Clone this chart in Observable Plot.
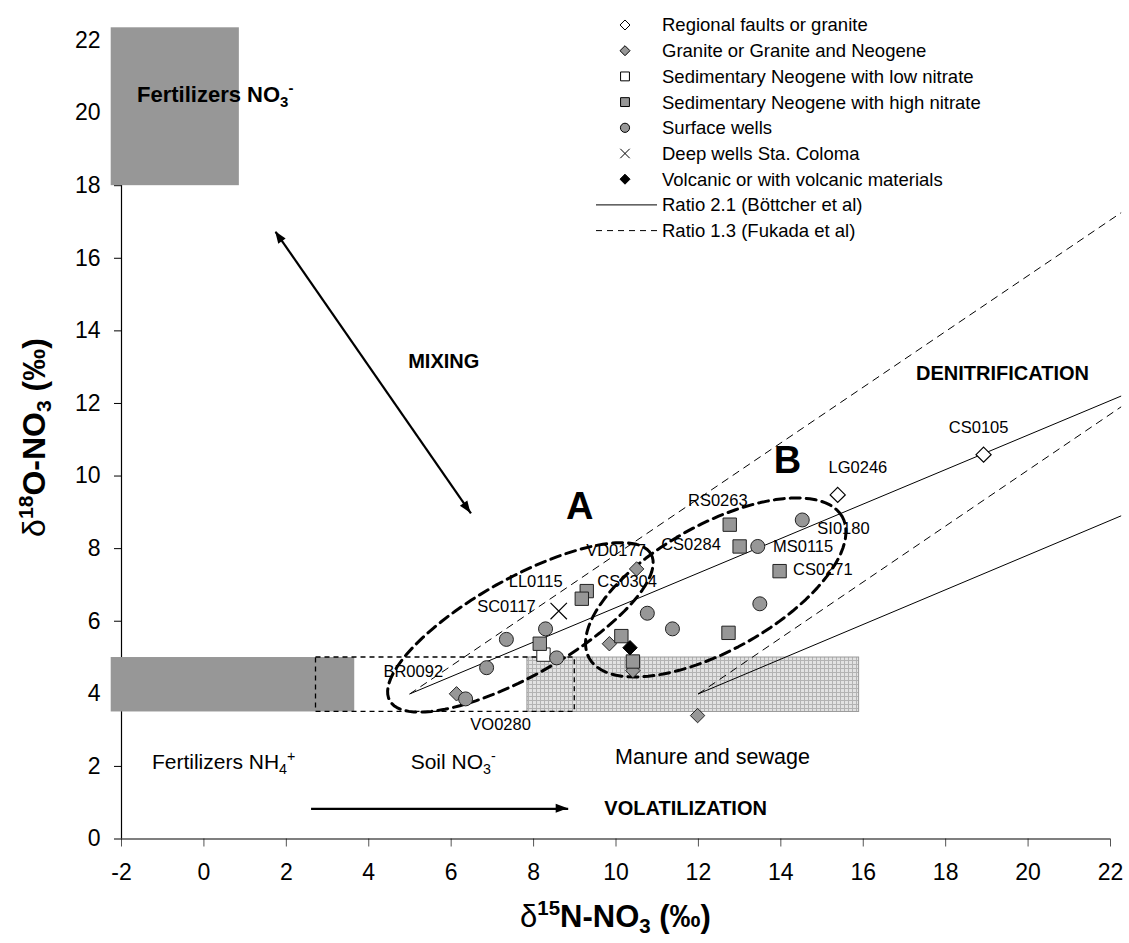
<!DOCTYPE html>
<html>
<head>
<meta charset="utf-8">
<script src="https://cdn.jsdelivr.net/npm/d3@7"></script>
<script src="https://cdn.jsdelivr.net/npm/@observablehq/plot@0.6"></script>
<style>
  body { margin: 0; background: #fff; }
  #chart { position: relative; width: 1129px; height: 943px; }
</style>
</head>
<body>
<div id="chart"></div>
<script>
const FONT = '"Liberation Sans", Arial, Helvetica, sans-serif';

// ---------- data (δ15N, δ18O in ‰) ----------
const xTicks = [-2, 0, 2, 4, 6, 8, 10, 12, 14, 16, 18, 20, 22];
const yTicks = [0, 2, 4, 6, 8, 10, 12, 14, 16, 18, 20, 22];

const regionalFaults = [ {n: 15.38, o: 9.48}, {n: 18.92, o: 10.59} ];
const graniteNeogene = [ {n: 10.50, o: 7.44}, {n: 9.84, o: 5.38}, {n: 6.13, o: 4.00}, {n: 10.41, o: 4.64}, {n: 11.98, o: 3.40} ];
const sedLowNitrate  = [ {n: 8.24, o: 5.08} ];
const sedHighNitrate = [ {n: 9.29, o: 6.83}, {n: 9.17, o: 6.62}, {n: 8.15, o: 5.38}, {n: 10.13, o: 5.59}, {n: 10.41, o: 4.89},
                         {n: 12.76, o: 8.66}, {n: 13.00, o: 8.06}, {n: 13.97, o: 7.38}, {n: 12.73, o: 5.68} ];
const surfaceWells   = [ {n: 8.29, o: 5.79}, {n: 7.34, o: 5.50}, {n: 8.56, o: 4.99}, {n: 6.86, o: 4.72}, {n: 6.35, o: 3.86},
                         {n: 10.76, o: 6.22}, {n: 11.37, o: 5.79}, {n: 13.44, o: 8.06}, {n: 14.52, o: 8.79}, {n: 13.49, o: 6.48} ];
const deepWells      = [ {n: 8.61, o: 6.28} ];
const volcanic       = [ {n: 10.34, o: 5.27} ];

const pointLabels = [
  {id: "CS0105", n: 18.80, o: 11.34}, {id: "LG0246", n: 15.87, o: 10.22}, {id: "SI0180", n: 15.52, o: 8.56},
  {id: "MS0115", n: 14.54, o: 8.05}, {id: "CS0271", n: 15.02, o: 7.41}, {id: "RS0263", n: 12.47, o: 9.33},
  {id: "CS0284", n: 11.82, o: 8.11}, {id: "VD0177", n: 10.00, o: 7.93}, {id: "CS0304", n: 10.27, o: 7.08},
  {id: "LL0115", n: 8.05, o: 7.09}, {id: "SC0117", n: 7.34, o: 6.40}, {id: "BR0092", n: 5.08, o: 4.61},
  {id: "VO0280", n: 7.20, o: 3.15}
];

// source boxes
const solidBoxes = [
  {name: "Fertilizers NO3-", n1: -2.25, n2: 0.86, o1: 18.0, o2: 22.35},
  {name: "Fertilizers NH4+", n1: -2.25, n2: 3.66, o1: 3.5, o2: 5.0}
];
const manureBox = [ {name: "Manure and sewage", n1: 7.85, n2: 15.9, o1: 3.5, o2: 5.0} ];
const soilBox   = [ {name: "Soil NO3-", n1: 2.72, n2: 9.0, o1: 3.5, o2: 5.0} ];

// ratio lines
const ratio21 = [ {id: "a", n: 5.0, o: 4.0}, {id: "a", n: 22.25, o: 12.2}, {id: "b", n: 12.0, o: 4.0}, {id: "b", n: 22.25, o: 8.9} ];
const ratio13 = [ {id: "a", n: 5.0, o: 4.0}, {id: "a", n: 22.25, o: 17.25}, {id: "b", n: 12.0, o: 4.0}, {id: "b", n: 22.25, o: 11.9} ];

// group ellipses: centre, half major axis vector, half minor axis vector
const groupA = {cn: 7.68, co: 5.83, un: 3.17, uo: 2.02, vn: -0.58, vo: 1.17};
const groupB = {cn: 12.42, co: 6.93, un: 3.07, uo: 1.95, vn: -0.75, vo: 1.51};

// process arrows (both = head at both ends)
const processArrows = [
  {name: "mixing", n1: 6.48, o1: 8.97, n2: 1.74, o2: 16.73, both: true},
  {name: "volatilization", n1: 2.60, o1: 0.83, n2: 8.84, o2: 0.83, both: false}
];

const groupLabels   = [ {t: "A", n: 9.12, o: 9.15}, {t: "B", n: 14.16, o: 10.43} ];
const processLabels = [ {t: "MIXING", n: 5.82, o: 13.14}, {t: "DENITRIFICATION", n: 19.38, o: 12.82}, {t: "VOLATILIZATION", n: 11.69, o: 0.84} ];
const sourceLabels = [
  {main: "Fertilizers NO", sub: "3", sup: "-", n: -1.61, o: 20.30, size: 22, bold: true},
  {main: "Fertilizers NH", sub: "4", sup: "+", n: -1.25, o: 1.91, size: 21, bold: false},
  {main: "Soil NO", sub: "3", sup: "-", n: 5.03, o: 1.91, size: 21, bold: false},
  {main: "Manure and sewage", sub: "", sup: "", n: 9.99, o: 2.05, size: 21.5, bold: false}
];

const legendItems = [
  {label: "Regional faults or granite", kind: "diamond", fill: "#fff"},
  {label: "Granite or Granite and Neogene", kind: "diamond", fill: "#979797"},
  {label: "Sedimentary Neogene with low nitrate", kind: "square", fill: "#fff"},
  {label: "Sedimentary Neogene with high nitrate", kind: "square", fill: "#979797"},
  {label: "Surface wells", kind: "circle", fill: "#979797"},
  {label: "Deep wells Sta. Coloma", kind: "times", fill: "none"},
  {label: "Volcanic or with volcanic materials", kind: "diamond", fill: "#000"},
  {label: "Ratio 2.1 (Böttcher et al)", kind: "line", dash: null},
  {label: "Ratio 1.3 (Fukada et al)", kind: "line", dash: "6,5"}
];

// ---------- helpers ----------
function ellipseOutline(e, id) {
  return d3.range(0, 97).map(i => {
    const t = i / 96 * 2 * Math.PI;
    return {id, n: e.cn + Math.cos(t) * e.un + Math.sin(t) * e.vn, o: e.co + Math.cos(t) * e.uo + Math.sin(t) * e.vo};
  });
}
const ellipses = [...ellipseOutline(groupA, "A"), ...ellipseOutline(groupB, "B")];

const GREY = "#979797";
const plot = Plot.plot({
  width: 1129, height: 943,
  marginLeft: 121, marginRight: 19, marginTop: 40, marginBottom: 104.5,
  x: {domain: [-2, 22]},
  y: {domain: [0, 22]},
  style: {fontFamily: FONT, background: "#fff", overflow: "visible", color: "#000"},
  marks: [
    Plot.axisX({ticks: xTicks, tickSize: 8, tickPadding: 17, fontSize: 23, label: null, tickFormat: d => String(d), stroke: "#555"}),
    Plot.axisY({ticks: yTicks, tickSize: 7, tickPadding: 14, fontSize: 23, label: null, tickFormat: d => String(d)}),
    Plot.ruleX([-2], {y1: 0, y2: 22, stroke: "#000", strokeWidth: 1.2}),
    Plot.ruleY([0], {x1: -2, x2: 22, stroke: "#000", strokeWidth: 1.2}),
    Plot.rect(solidBoxes, {x1: "n1", x2: "n2", y1: "o1", y2: "o2", fill: GREY}),
    Plot.rect(manureBox, {x1: "n1", x2: "n2", y1: "o1", y2: "o2", fill: "url(#manureGrid)", stroke: "#999", strokeWidth: 1}),
    Plot.rect(soilBox, {x1: "n1", x2: "n2", y1: "o1", y2: "o2", fill: "none", stroke: "#000", strokeWidth: 1.3, strokeDasharray: "5,4"}),
    Plot.line(ratio21, {x: "n", y: "o", z: "id", stroke: "#000", strokeWidth: 1}),
    Plot.line(ratio13, {x: "n", y: "o", z: "id", stroke: "#000", strokeWidth: 1, strokeDasharray: "7,6"}),
    Plot.line(ellipses, {x: "n", y: "o", z: "id", stroke: "#000", strokeWidth: 3, strokeDasharray: "10,6"}),
    Plot.link(processArrows, {x1: "n1", y1: "o1", x2: "n2", y2: "o2", stroke: "#000", strokeWidth: 2.2}),
    Plot.dot(regionalFaults, {x: "n", y: "o", symbol: "diamond2", r: 6.8, fill: "#fff", stroke: "#000", strokeWidth: 1.2}),
    Plot.dot(graniteNeogene, {x: "n", y: "o", symbol: "diamond2", r: 6.5, fill: GREY, stroke: "#222", strokeWidth: 1}),
    Plot.dot(sedLowNitrate, {x: "n", y: "o", symbol: "square2", r: 8.5, fill: "#fff", stroke: "#222", strokeWidth: 1}),
    Plot.dot(sedHighNitrate, {x: "n", y: "o", symbol: "square2", r: 8.5, fill: GREY, stroke: "#222", strokeWidth: 1}),
    Plot.dot(surfaceWells, {x: "n", y: "o", symbol: "circle", r: 7, fill: GREY, stroke: "#222", strokeWidth: 1}),
    Plot.dot(deepWells, {x: "n", y: "o", symbol: "times", r: 7.5, fill: "none", stroke: "#000", strokeWidth: 1.2}),
    Plot.dot(volcanic, {x: "n", y: "o", symbol: "diamond2", r: 6.5, fill: "#000", stroke: "#000", strokeWidth: 1}),
    Plot.text(pointLabels, {x: "n", y: "o", text: "id", fontSize: 16.5, fill: "#000"}),
    Plot.text(groupLabels, {x: "n", y: "o", text: "t", fontSize: 38, fontWeight: "bold", fill: "#000"}),
    Plot.text(processLabels, {x: "n", y: "o", text: "t", fontSize: 20, fontWeight: "bold", fill: "#000"})
  ]
});

document.getElementById("chart").appendChild(plot);

const svg = d3.select(plot);
const sx = plot.scale("x"), sy = plot.scale("y");

// grid pattern for manure box
svg.insert("defs", ":first-child").html(
  '<pattern id="manureGrid" width="4" height="4" patternUnits="userSpaceOnUse">' +
  '<rect width="4" height="4" fill="#e2e2e2"/>' +
  '<path d="M0 0.5H4M0.5 0V4" stroke="#b3b3b3" stroke-width="1"/></pattern>'
);

// filled arrow heads at the ends of the process arrows (positions via the plot's scales)
function head(px, py, qx, qy) {           // tip at q, coming from p
  const dx = qx - px, dy = qy - py, L = Math.hypot(dx, dy), ux = dx / L, uy = dy / L;
  const len = 12, w = 4.5;
  const bx = qx - ux * len, by = qy - uy * len;
  return `M${qx},${qy}L${bx - uy * w},${by + ux * w}L${bx + uy * w},${by - ux * w}Z`;
}
processArrows.forEach(a => {
  const p = [sx.apply(a.n1), sy.apply(a.o1)], q = [sx.apply(a.n2), sy.apply(a.o2)];
  svg.append("path").attr("d", head(p[0], p[1], q[0], q[1])).attr("fill", "#000");
  if (a.both) svg.append("path").attr("d", head(q[0], q[1], p[0], p[1])).attr("fill", "#000");
});

// source labels with sub/superscripts
sourceLabels.forEach(s => {
  const t = svg.append("text")
    .attr("x", sx.apply(s.n)).attr("y", sy.apply(s.o))
    .attr("text-anchor", "start")
    .attr("font-family", FONT).attr("font-size", s.size)
    .attr("font-weight", s.bold ? "bold" : "normal").attr("fill", "#000");
  t.append("tspan").text(s.main);
  if (s.sub) t.append("tspan").attr("dy", s.size * 0.22).attr("font-size", s.size * 0.68).text(s.sub);
  if (s.sup) t.append("tspan").attr("dy", -s.size * 0.62).attr("font-size", s.size * 0.68).text(s.sup);
});

// axis titles
function title(g, lead, sup, main, sub, tail, size) {
  g.attr("font-family", FONT).attr("font-size", size).attr("font-weight", "bold").attr("fill", "#000").attr("text-anchor", "middle");
  g.append("tspan").attr("font-weight", "normal").text(lead);
  g.append("tspan").attr("dy", -size * 0.38).attr("font-size", size * 0.66).text(sup);
  g.append("tspan").attr("dy", size * 0.38).text(main);
  g.append("tspan").attr("dy", size * 0.2).attr("font-size", size * 0.66).text(sub);
  g.append("tspan").attr("dy", -size * 0.2).text(tail);
}
title(svg.append("text").attr("x", 615.5).attr("y", 927), "δ", "15", "N-NO", "3", " (‰)", 31);
title(svg.append("text").attr("transform", "translate(45,437.5) rotate(-90)"), "δ", "18", "O-NO", "3", " (‰)", 32);

// legend
const lg = svg.append("g").attr("font-family", FONT).attr("font-size", 18.5).attr("text-anchor", "start");
legendItems.forEach((d, i) => {
  const y = 25 + i * 25.7;
  if (d.kind === "line") {
    lg.append("line").attr("x1", 596).attr("x2", 657).attr("y1", y).attr("y2", y)
      .attr("stroke", "#000").attr("stroke-width", 1).attr("stroke-dasharray", d.dash);
  } else {
    const types = {diamond: [d3.symbolDiamond2, 64], square: [d3.symbolSquare2, 100], circle: [d3.symbolCircle, 66], times: [d3.symbolTimes, 60]};
    const [type, size] = types[d.kind];
    lg.append("path").attr("d", d3.symbol(type, size)()).attr("transform", `translate(625,${y})`)
      .attr("fill", d.fill).attr("stroke", "#000").attr("stroke-width", 1);
  }
  lg.append("text").attr("x", 662).attr("y", y).attr("dy", "0.35em").attr("fill", "#000").text(d.label);
});
</script>
</body>
</html>
